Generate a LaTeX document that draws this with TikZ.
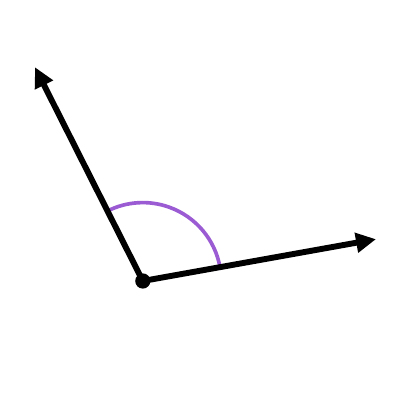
\documentclass[tikz,border=0pt]{standalone}
\usetikzlibrary{arrows.meta}
\definecolor{arcpurple}{HTML}{9A5BD3}
\begin{document}
\begin{tikzpicture}[ray/.style={line width=4.2pt, -{Triangle[length=0.5cm, width=0.48cm]}},
	anglearc/.style={line width=2.6pt, arcpurple}]
	\useasboundingbox (0, 0) rectangle (10, 10);
	\coordinate (O) at (3.57, 2.975);
	\coordinate (A) at (9.4, 4.02);
	\coordinate (B) at (0.875, 8.32);
	\draw[anglearc] (O) ++(10.1:1.96) arc[start angle=10.1, end angle=116.7, radius=1.96];
	\draw[ray] (O) -- (A);
	\draw[ray] (O) -- (B);
	\fill (O) circle (0.19);
\end{tikzpicture}
\end{document}
